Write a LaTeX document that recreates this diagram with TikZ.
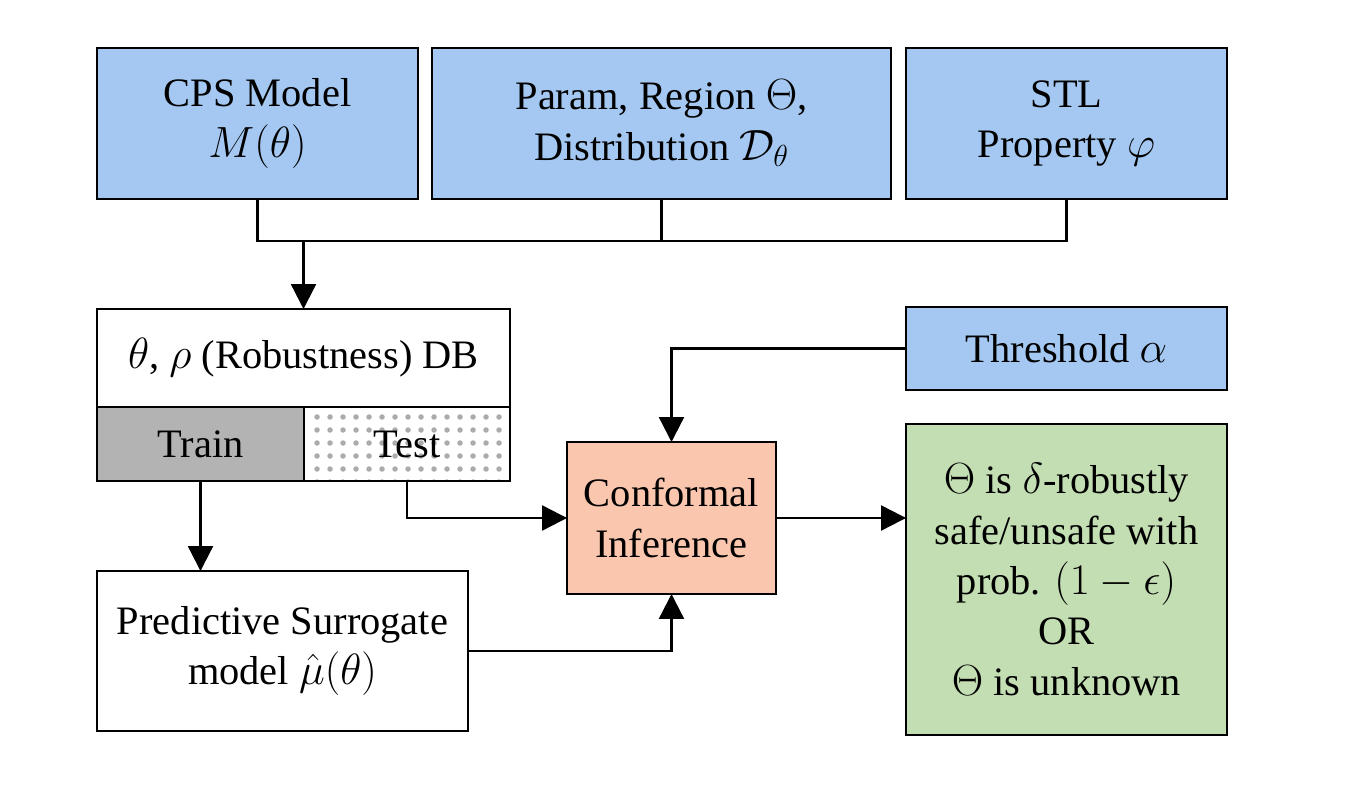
\documentclass[tikz,border=0pt]{standalone}
\usepackage{amsmath,amssymb}
\usepackage{fontspec}
\setmainfont{Liberation Serif}
\usepackage{tikz}
\usetikzlibrary{arrows.meta, positioning, backgrounds}
\definecolor{cpsBlue}{HTML}{A4C8F1}
\definecolor{confSalmon}{HTML}{FBC6AE}
\definecolor{resGreen}{HTML}{C4DEB3}
\definecolor{trainGray}{HTML}{B3B3B3}
\definecolor{dotGray}{HTML}{ABABAB}

\begin{document}
\begin{tikzpicture}[x=0.02cm, y=-0.02cm, line width=1.3pt,
    every node/.style={font=\fontsize{23}{28.7}\selectfont},
    box/.style={draw, inner sep=0pt, outer sep=0pt, align=center},
    inbox/.style={box, fill=cpsBlue},
    arr/.style={-{Triangle[length=0.5cm, width=0.5cm]}}]
    \useasboundingbox (0,0) rectangle (1353,787);
    % inputs
    \node[inbox, minimum width=6.42cm, minimum height=3.02cm] (cps) at (257.5,123.5) {CPS Model\\ $M(\theta)$};
    \node[inbox, minimum width=9.18cm, minimum height=3.02cm] (param) at (661.5,123.5) {Param, Region $\Theta$,\\ Distribution $\mathcal{D}_\theta$};
    \node[inbox, minimum width=6.42cm, minimum height=3.02cm] (stl) at (1066.5,123.5) {STL\\ Property $\varphi$};
    \coordinate (bus) at (0,241);
    % database
    \node[box, minimum width=8.26cm, minimum height=1.96cm] (db) at (303.5,358) {$\theta$, $\rho$ (Robustness) DB};
    \node[box, fill=trainGray, minimum width=4.14cm, minimum height=1.48cm] (train) at (200.5,444) {Train};
    \node[box, minimum width=4.12cm, minimum height=1.48cm] (test) at (407,444) {Test};
    \begin{scope}[on background layer]
      \clip (test.north west) rectangle (test.south east);
      \foreach \i in {0,...,14}
        \foreach \j in {0,...,5}
          \fill[dotGray] ([shift={(13+13*\i,10+13*\j)}]test.north west) circle (0.055cm);
    \end{scope}
    \node[box, minimum width=7.42cm, minimum height=3.2cm] (pred) at (282.5,651) {Predictive Surrogate\\ model $\hat{\mu}(\theta)$};
    % inference
    \node[inbox, minimum width=6.42cm, minimum height=1.66cm] (thresh) at (1066.5,348.5) {Threshold $\alpha$};
    \node[box, fill=confSalmon, minimum width=4.18cm, minimum height=3.04cm] (conf) at (671.5,518) {Conformal\\ Inference};
    \node[box, fill=resGreen, minimum width=6.42cm, minimum height=6.22cm] (res) at (1066.5,579.5) {$\Theta$ is $\delta$-robustly\\ safe/unsafe with\\ prob. $(1-\epsilon)$\\ OR\\ $\Theta$ is unknown};
    % connectors
    \draw (cps.south) |- (stl.south |- bus) -- (stl.south);
    \draw (param.south) -- (param.south |- bus);
    \draw[arr] (db.north |- bus) -- (db.north);
    \draw[arr] (train.south) -- (train.south |- pred.north);
    \draw[arr] (test.south) |- (conf.west);
    \draw[arr] (pred.east) -| (conf.south);
    \draw[arr] (thresh.west) -| (conf.north);
    \draw[arr] (conf.east) -- (conf.east -| res.west);
\end{tikzpicture}
\end{document}
